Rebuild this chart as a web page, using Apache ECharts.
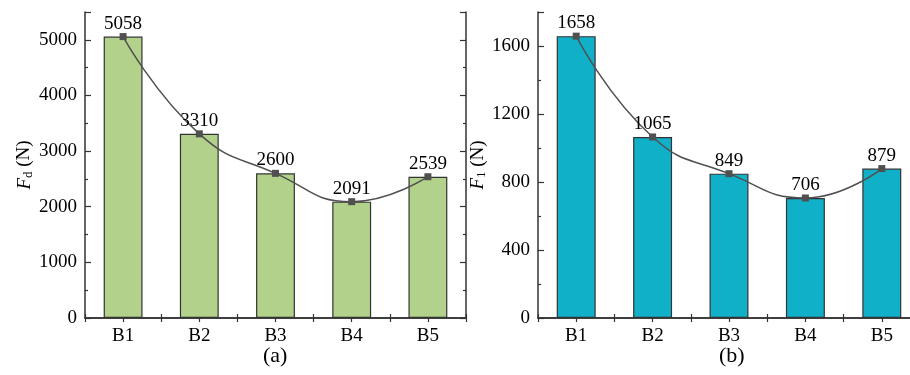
<!DOCTYPE html>
<html>
<head>
<meta charset="utf-8">
<script src="https://cdn.jsdelivr.net/npm/echarts@6/dist/echarts.min.js"></script>
<style>html,body{margin:0;padding:0;background:#fff}#c{width:910px;height:375px}</style>
</head>
<body>
<div id="c"></div>
<script>
var categories = ['B1', 'B2', 'B3', 'B4', 'B5'];
var valuesA = [5058, 3310, 2600, 2091, 2539];
var valuesB = [1658, 1065, 849, 706, 879];
var captions = ['(a)', '(b)'];

var FONT = '"Liberation Serif", "Times New Roman", serif';
var AX = '#333';
var TXT = '#000';
var chart = echarts.init(document.getElementById('c'), null, {renderer: 'canvas'});

function tickAxisX(gi, pos) {
  return {
    type: 'value', gridIndex: gi, position: pos, min: -0.5, max: 4.5, interval: 0.5,
    axisLine: {show: pos === 'top', lineStyle: {color: AX, width: 1.5}},
    axisTick: {show: true, inside: true, length: 4, lineStyle: {color: AX, width: 1.2}},
    axisLabel: {show: false}, splitLine: {show: false}
  };
}
function yAxes(gi, max, interval, sub, gap) {
  var base = {
    type: 'value', gridIndex: gi, min: 0, max: max, interval: interval,
    splitLine: {show: false},
    minorTick: {show: true, splitNumber: 2, length: 3, lineStyle: {color: AX, width: 1.2}},
    axisTick: {show: true, inside: true, length: 6, lineStyle: {color: AX, width: 1.2}},
    axisLine: {show: true, onZero: false, lineStyle: {color: AX, width: 1.5}}
  };
  var left = Object.assign({}, base, {
    position: 'left',
    name: '{i|F}{s|' + sub + '} (N)',
    nameLocation: 'middle', nameGap: gap,
    nameTextStyle: {
      fontFamily: FONT, fontSize: 19, color: TXT,
      rich: {
        i: {fontFamily: FONT, fontSize: 19, fontStyle: 'italic', color: TXT},
        s: {fontFamily: FONT, fontSize: 13, color: TXT, padding: [8, 0, 0, 0]}
      }
    },
    axisLabel: {
      margin: 8, fontFamily: FONT, fontSize: 19, color: TXT,
      formatter: function (v) { return (v % interval === 0) ? String(v) : ''; }
    }
  });
  var right = Object.assign({}, base, {position: 'right', axisLabel: {show: false}});
  return [left, right];
}
function series(gi, data, color) {
  return [
    {
      type: 'bar', xAxisIndex: gi * 3, yAxisIndex: gi * 2, data: data, barWidth: '51%',
      itemStyle: {color: color, borderColor: '#333', borderWidth: 1.2},
      silent: true, z: 2
    },
    {
      type: 'line', xAxisIndex: gi * 3, yAxisIndex: gi * 2, data: data, smooth: 0.5,
      symbol: 'rect', symbolSize: 7,
      lineStyle: {color: '#505050', width: 1.5},
      itemStyle: {color: '#505050'},
      label: {show: true, position: 'top', distance: 0, fontFamily: FONT, fontSize: 19, color: TXT},
      silent: true, z: 3
    }
  ];
}

var catAxis = function (gi) {
  return {
    type: 'category', gridIndex: gi, data: categories, position: 'bottom',
    axisLine: {show: true, onZero: false, lineStyle: {color: AX, width: 1.5}},
    axisTick: {show: false},
    axisLabel: {margin: 9, fontFamily: FONT, fontSize: 19, color: TXT}
  };
};

var ya = yAxes(0, 5500, 1000, 'd', 50);
var yb = yAxes(1, 1800, 400, '1', 44);

chart.setOption({
  animation: false,
  backgroundColor: '#fff',
  grid: [
    {left: 85, width: 381, top: 12, bottom: 57, outerBoundsMode: 'none', containLabel: false},
    {left: 538, width: 382, top: 12, bottom: 57, outerBoundsMode: 'none', containLabel: false}
  ],
  xAxis: [catAxis(0), tickAxisX(0, 'bottom'), tickAxisX(0, 'top'),
          catAxis(1), tickAxisX(1, 'bottom'), tickAxisX(1, 'top')],
  yAxis: [ya[0], ya[1], yb[0], yb[1]],
  series: series(0, valuesA, '#b2d18a').concat(series(1, valuesB, '#10b0c9')),
  graphic: [
    {type: 'text', left: 263, top: 345, style: {text: captions[0], font: '22px "Liberation Serif", serif', fill: TXT}},
    {type: 'text', left: 719, top: 345, style: {text: captions[1], font: '22px "Liberation Serif", serif', fill: TXT}}
  ]
});
</script>
</body>
</html>
